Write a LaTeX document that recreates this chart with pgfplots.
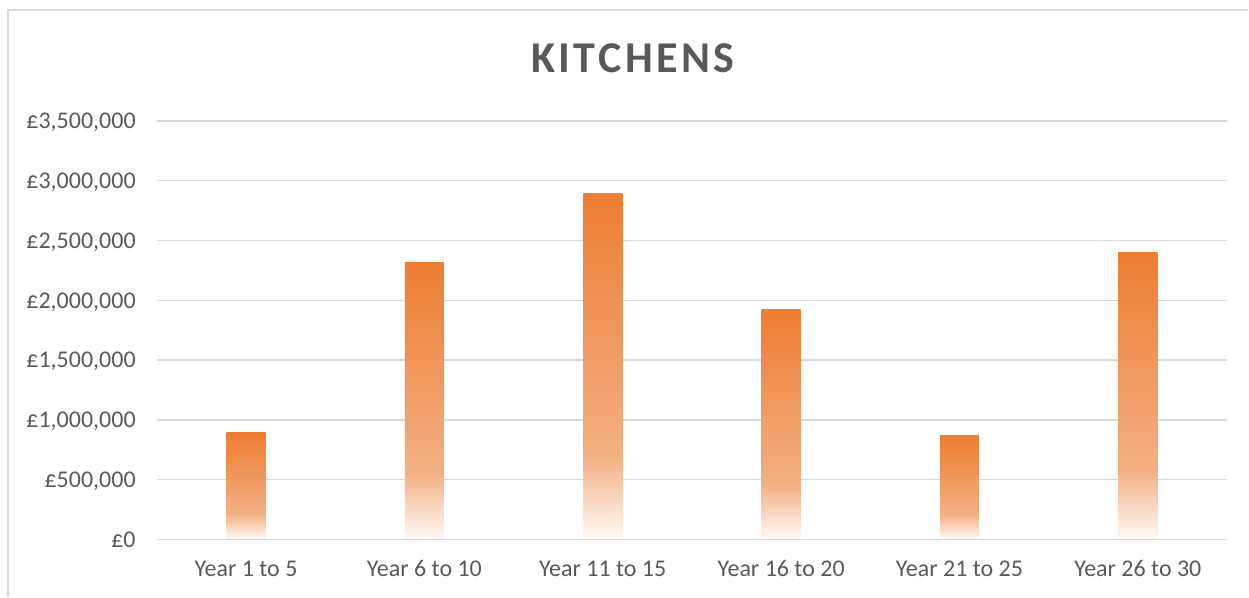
\documentclass[border=0pt]{standalone}
\usepackage{fontspec}
\setmainfont{Carlito}
\usepackage{pgfplots}
\pgfplotsset{compat=1.18}
\definecolor{txtgray}{HTML}{595959}
\definecolor{gridgray}{HTML}{D9D9D9}
\definecolor{barorange}{HTML}{ED7D31}
\definecolor{barlight}{HTML}{F3B084}
\definecolor{barwhite}{HTML}{FFFAF7}
\pgfdeclareverticalshading{barfade}{100bp}{color(0bp)=(barwhite); color(25bp)=(barwhite); color(37bp)=(barlight); color(75bp)=(barorange); color(100bp)=(barorange)}
\pgfplotsset{kbar/.style={ybar, bar width=29.25pt, bar shift=0pt, draw=none, shading=barfade}}

\begin{document}
\begin{tikzpicture}
% page size: 1249 x 597 px at 0.75pt per px
\path (0,0) rectangle (936.75pt,447.75pt);
\draw[gridgray, line width=1.5pt] (6pt,0) -- (6pt,440.25pt) -- (936.75pt,440.25pt);
\node[anchor=base, font=\fontsize{33}{40}\selectfont\bfseries\addfontfeature{LetterSpace=8}, text=txtgray] at (475pt,393pt) {KITCHENS};
\begin{axis}[
    at={(117.75pt,42.75pt)}, anchor=south west,
    scale only axis,
    width=803.25pt, height=314.25pt,
    xmin=-0.5, xmax=5.5,
    ymin=0, ymax=3500000,
    xtick={0,1,2,3,4,5},
    xticklabels={Year 1 to 5, Year 6 to 10, Year 11 to 15, Year 16 to 20, Year 21 to 25, Year 26 to 30},
    ytick={0,500000,1000000,1500000,2000000,2500000,3000000,3500000},
    yticklabels={£0,{£500,000},{£1,000,000},{£1,500,000},{£2,000,000},{£2,500,000},{£3,000,000},{£3,500,000}},
    scaled y ticks=false,
    axis line style={draw=none},
    major tick length=0pt,
    ymajorgrids=true,
    grid style={gridgray, line width=1pt},
    xticklabel style={anchor=base, inner sep=0pt, yshift=-27.75pt, font=\fontsize{18}{21}\selectfont, text=txtgray},
    yticklabel style={anchor=base east, inner sep=0pt, xshift=-15.75pt, yshift=-5.8pt, font=\fontsize{18}{21}\selectfont, text=txtgray},
    clip=false,
]
% one plot per bar so each bar gets its own gradient
\addplot[kbar] coordinates {(0,894000)};
\addplot[kbar] coordinates {(1,2314000)};
\addplot[kbar] coordinates {(2,2890000)};
\addplot[kbar] coordinates {(3,1921000)};
\addplot[kbar] coordinates {(4,869000)};
\addplot[kbar] coordinates {(5,2397000)};
\draw[gridgray, line width=1.3pt] (axis cs:-0.5,0) -- (axis cs:5.5,0);
\end{axis}
\end{tikzpicture}
\end{document}
